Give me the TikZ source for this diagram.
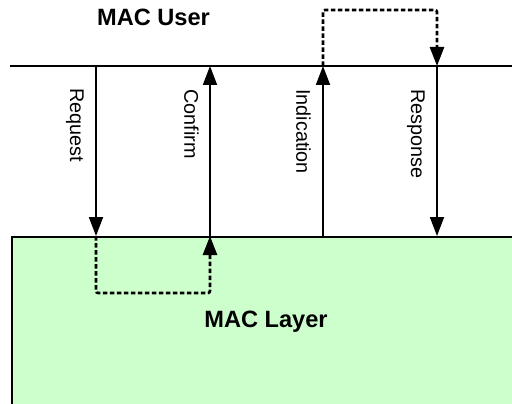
\documentclass[tikz,border=0pt]{standalone}
\usepackage{fontspec}
\setmainfont{Liberation Sans}
\usetikzlibrary{arrows.meta}
\definecolor{layergreen}{HTML}{CCFFCC}
\begin{document}
\begin{tikzpicture}[x=1pt,y=-1pt,
  prim/.style={line width=1.8pt},
  primarrow/.style={prim,-{Triangle[length=19pt,width=14pt]}},
  loop/.style={line width=2.6pt,dash pattern=on 4.5pt off 2.5pt,rounded corners=2pt,-{Triangle[length=19pt,width=14pt]}},
  lbl/.style={rotate=-90,anchor=north west,inner sep=0pt,font=\fontsize{19.8}{20}\selectfont},
  title/.style={inner sep=0pt,font=\fontsize{23.6}{24}\selectfont\bfseries}]
\useasboundingbox (0,0) rectangle (512,404);
\clip (0,0) rectangle (512,404);
% layer box
\node[draw,prim,fill=layergreen,anchor=north west,minimum width=520pt,minimum height=200pt,inner sep=0pt] (layer) at (11,236) {};
% user line
\coordinate (ul) at (10,66);
\coordinate (ur) at (514,66);
\draw[prim] (ul) -- (ur);
% primitive endpoints
\coordinate (reqT) at (96,66);  \coordinate (reqB) at (96,236);
\coordinate (conT) at (210,66); \coordinate (conB) at (210,236);
\coordinate (indT) at (323,66); \coordinate (indB) at (323,236);
\coordinate (resT) at (437,66); \coordinate (resB) at (437,236);
\draw[primarrow] (reqT) -- (reqB);
\draw[primarrow] (conB) -- (conT);
\draw[primarrow] (indB) -- (indT);
\draw[primarrow] (resT) -- (resB);
% dashed loops
\draw[loop] (indT) -- (323,10) -- (437,10) -- (resT);
\draw[loop] (reqB) -- (96,293) -- (210,293) -- (conB);
% labels
\node[lbl] (lreq) at (84,88) {Request};
\node[lbl] (lcon) at (199,89) {Confirm};
\node[lbl] (lind) at (311,89) {Indication};
\node[lbl] (lres) at (425,89) {Response};
\node[title] (user) at (153.5,17) {MAC User};
\node[title] (ltitle) at (266,322) {MAC Layer};
\end{tikzpicture}
\end{document}
